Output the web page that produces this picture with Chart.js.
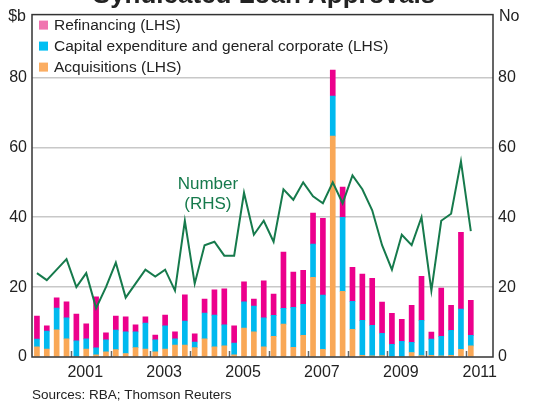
<!DOCTYPE html>
<html>
<head>
<meta charset="utf-8">
<script src="https://cdn.jsdelivr.net/npm/chart.js@4"></script>
<style>
  body { margin: 0; background: #fff; }
</style>
</head>
<body>
<canvas id="loans" width="534" height="403"></canvas>
<script>
// quarterly data, 2000 Q1 .. 2011 Q1
const startYear = 2000;
const acquisitions = [2.9,2.3,7.8,5.2,0,2.3,0.6,1.5,2.1,1.0,2.7,2.3,1.5,2.3,3.4,3.4,2.7,5.2,2.9,3.2,0.6,8.3,7.2,2.9,5.9,9.4,2.8,6.2,22.8,2.2,63.2,18.8,7.9,0.5,0.3,0.4,0,0,1.3,0.4,0.5,0.3,0.5,2.2,3.2];
const capex = [2.2,5.1,6.2,6.0,4.6,2.9,2.0,3.4,5.6,6.2,4.5,7.4,3.4,6.6,1.8,6.9,1.6,7.4,9.1,6.0,3.4,7.5,7.4,8.3,6.0,4.5,11.4,8.9,9.5,15.5,11.5,21.2,8.0,10.0,8.8,6.4,3.6,4.5,2.9,10.1,4.6,5.6,7.1,11.5,3.0];
const refinancing = [6.6,1.5,2.9,4.6,7.7,4.3,14.6,2.0,4.0,4.3,2.0,1.8,1.4,3.1,2.0,7.5,2.3,4.0,7.2,10.3,4.9,5.7,2.0,10.6,6.1,16.1,10.1,9.7,8.9,22.0,7.4,8.6,9.8,13.2,13.4,8.9,8.9,6.3,10.6,12.6,2.0,13.8,7.2,22.0,10.0];
const numberOfLoans = [24,22,25,28,20,24,14,20,27,17,21,25,23,25,19,39,21,32,33,29,29,47,35,39,33,48,45,50,46,44,50,44,52,48,42,32,25,35,32,40,19,39,41,56,36];
const yearLabels = [2001, 2003, 2005, 2007, 2009, 2011];
const yTicks = [0, 20, 40, 60, 80];

const quarters = numberOfLoans.map((v, i) => startYear + Math.floor(i / 4) + ' Q' + (i % 4 + 1));
const xPos = quarters.map((q, i) => startYear + (i + 0.5) / 4);
const pts = arr => arr.map((v, i) => ({ x: xPos[i], y: v }));

const font = "'Liberation Sans', Arial, sans-serif";

// frame, year ticks, legend and text labels
const decor = {
  id: 'decor',
  afterDatasetsDraw(chart) {
    const ctx = chart.ctx;
    const a = chart.chartArea;
    const xs = chart.scales.x, ys = chart.scales.y;
    ctx.save();
    // year tick marks inside the plot
    ctx.strokeStyle = '#666';
    ctx.lineWidth = 1.5;
    for (let yr = startYear + 1; yr < xs.max; yr++) {
      const px = Math.round(xs.getPixelForValue(yr)) + 0.5;
      ctx.beginPath();
      ctx.moveTo(px, a.bottom);
      ctx.lineTo(px, a.bottom - 6);
      ctx.stroke();
    }
    // frame
    ctx.strokeStyle = '#333';
    ctx.lineWidth = 1.5;
    ctx.strokeRect(a.left, a.top, a.right - a.left, a.bottom - a.top);

    // legend
    ctx.font = '15.5px ' + font;
    ctx.textBaseline = 'middle';
    ctx.textAlign = 'left';
    const bars = chart.data.datasets.filter(d => d.type !== 'line').slice().reverse();
    bars.forEach((d, i) => {
      const cy = a.top + 10.5 + i * 21;
      ctx.fillStyle = d.legendColor;
      ctx.fillRect(a.left + 7, cy - 4.5, 9, 9);
      ctx.fillStyle = '#222';
      ctx.fillText(d.label, a.left + 22, cy + 1);
    });

    // line label
    ctx.fillStyle = '#167a4c';
    ctx.font = '17px ' + font;
    ctx.textAlign = 'center';
    const lx = xs.getPixelForValue(2004.46);
    ctx.fillText('Number', lx, ys.getPixelForValue(49.3));
    ctx.fillText('(RHS)', lx, ys.getPixelForValue(43.8));

    // axis units
    ctx.fillStyle = '#222';
    ctx.font = '16px ' + font;
    ctx.textAlign = 'right';
    ctx.fillText('$b', a.left - 6, a.top + 2);
    ctx.textAlign = 'left';
    ctx.fillText('No', a.right + 6, a.top + 2);

    // title (cut off at top like the original) and source
    ctx.textBaseline = 'alphabetic';
    ctx.textAlign = 'center';
    ctx.font = 'bold 26px ' + font;
    ctx.fillText('Syndicated Loan Approvals', 264, 3);
    ctx.textAlign = 'left';
    ctx.font = '13.5px ' + font;
    ctx.fillText('Sources: RBA; Thomson Reuters', a.left, 399);
    ctx.restore();
  }
};

const yAxis = (pos, width) => ({
  position: pos,
  min: 0,
  max: 98,
  stacked: pos === 'left',
  afterBuildTicks: s => { s.ticks = yTicks.map(v => ({ value: v })); },
  afterFit: s => { s.width = width; },
  border: { display: false },
  grid: {
    drawOnChartArea: pos === 'left',
    drawTicks: false,
    color: c => c.tick && c.tick.value === 0 ? 'rgba(0,0,0,0)' : '#c8c8c8',
    lineWidth: 1.5
  },
  ticks: { padding: 5, color: '#222', font: { family: font, size: 16 } }
});

new Chart(document.getElementById('loans'), {
  type: 'bar',
  data: {
    datasets: [
      { type: 'line', label: 'Number (RHS)', data: pts(numberOfLoans), yAxisID: 'y2',
        borderColor: '#167a4c', borderWidth: 2, pointRadius: 0, tension: 0, order: 0 },
      { label: 'Acquisitions (LHS)', data: pts(acquisitions), backgroundColor: '#f9a857',
        legendColor: '#fbad62', yAxisID: 'y', order: 1 },
      { label: 'Capital expenditure and general corporate (LHS)', data: pts(capex),
        backgroundColor: '#00b9ef', legendColor: '#00bff3', yAxisID: 'y', order: 1 },
      { label: 'Refinancing (LHS)', data: pts(refinancing), backgroundColor: '#ec008c',
        legendColor: '#f075b0', yAxisID: 'y', order: 1 }
    ]
  },
  options: {
    responsive: false,
    animation: false,
    devicePixelRatio: 1,
    layout: { padding: { top: 14, left: 0, right: 0, bottom: 0 } },
    datasets: { bar: { barThickness: 5 } },
    plugins: { legend: { display: false }, tooltip: { enabled: false } },
    scales: {
      x: {
        type: 'linear',
        stacked: true,
        offset: false,
        min: startYear,
        max: startYear + 46.75 / 4,
        // year labels sit a little left of mid-year so 2011 fits inside the frame
        afterBuildTicks: s => { s.ticks = yearLabels.map(y => ({ value: y + 0.35 })); },
        afterFit: s => { s.height = 46; },
        border: { display: false },
        grid: { display: false, drawTicks: false },
        ticks: {
          padding: 6,
          color: '#222',
          maxRotation: 0,
          font: { family: font, size: 16 },
          callback: v => String(Math.floor(v))
        }
      },
      y: yAxis('left', 32),
      y2: yAxis('right', 41)
    }
  },
  plugins: [decor]
});
</script>
</body>
</html>
